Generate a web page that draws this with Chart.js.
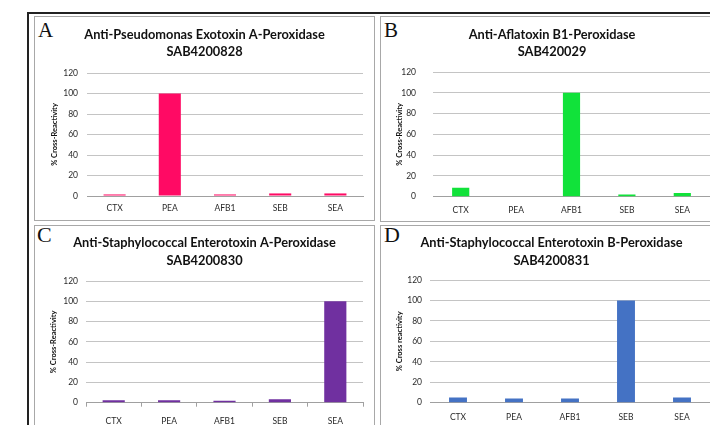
<!DOCTYPE html>
<html><head><meta charset="utf-8">
<script src="https://cdn.jsdelivr.net/npm/chart.js@4.4.0/dist/chart.umd.min.js"></script>
<style>
html,body{margin:0;padding:0;width:710px;height:425px;overflow:hidden;background:#fff;}
.outer{position:absolute;left:27px;top:12px;width:720px;height:440px;border-left:2px solid #222;border-top:2px solid #222;}
.panel{position:absolute;border:1.5px solid #a8a8a8;box-sizing:border-box;}
.letter{position:absolute;font-family:"Liberation Serif","DejaVu Serif",serif;font-size:21px;color:#111;line-height:1;}
canvas{position:absolute;}
</style></head><body>
<div class="outer"></div>
<div class="panel" style="left:34px;top:16px;width:341px;height:205px;"></div>
<div class="panel" style="left:380px;top:16px;width:400px;height:206px;"></div>
<div class="panel" style="left:34px;top:225px;width:341px;height:300px;"></div>
<div class="panel" style="left:380px;top:225px;width:400px;height:300px;"></div>
<div class="letter" style="left:38px;top:20px;">A</div>
<div class="letter" style="left:384px;top:20px;">B</div>
<div class="letter" style="left:37px;top:224px;font-size:22px;">C</div>
<div class="letter" style="left:384px;top:224px;font-size:22px;">D</div>
<canvas id="cA" width="339" height="203" style="left:35px;top:17px;"></canvas>
<canvas id="cB" width="342" height="204" style="left:381px;top:17px;"></canvas>
<canvas id="cC" width="339" height="205" style="left:35px;top:226px;"></canvas>
<canvas id="cD" width="340" height="205" style="left:381px;top:226px;"></canvas>
<script>
const categories = ['CTX', 'PEA', 'AFB1', 'SEB', 'SEA'];
const valuesA = [1.5, 100, 1.5, 2.5, 2.5];
const valuesB = [8.5, 0, 100, 2, 3.5];
const valuesC = [2.5, 2.5, 2, 3.5, 100];
const valuesD = [5, 4, 4, 100, 5];
const yTickValues = [0, 20, 40, 60, 80, 100, 120];
const titleA = ['Anti-Pseudomonas Exotoxin A-Peroxidase', 'SAB4200828'];
const titleB = ['Anti-Aflatoxin B1-Peroxidase', 'SAB420029'];
const titleC = ['Anti-Staphylococcal Enterotoxin A-Peroxidase', 'SAB4200830'];
const titleD = ['Anti-Staphylococcal Enterotoxin B-Peroxidase', 'SAB4200831'];
const yTitleA = '% Cross-Reactivity';
const yTitleB = '% Cross-Reactivity';
const yTitleC = '% Cross-Reactivity';
const yTitleD = '% Cross reactivity';

const FONT = 'Lato, "Liberation Sans", sans-serif';

function makeChart(id, values, title, yTitle, color, o) {
  new Chart(document.getElementById(id), {
    type: 'bar',
    data: {
      labels: categories,
      datasets: [{ data: values, backgroundColor: color, borderWidth: 0,
        barPercentage: o.bar, categoryPercentage: 1 }]
    },
    options: {
      responsive: false, animation: false, devicePixelRatio: 1,
      layout: { padding: { left: o.left, right: o.right, top: 0, bottom: 0 } },
      plugins: {
        legend: { display: false }, tooltip: { enabled: false },
        title: { display: true, text: title, color: '#111',
          font: { family: FONT, size: 12.8, weight: 'bold', lineHeight: o.lh + 'px' },
          padding: { top: o.tTop, bottom: o.tBot } }
      },
      scales: {
        x: {
          afterFit: s => { s.height = o.xh; },
          border: { display: true, color: '#a0a0a0', width: 1 },
          grid: o.xTicks ? { display: true, drawOnChartArea: false, drawTicks: true, tickLength: 4, color: '#a0a0a0' }
                         : { display: false, drawTicks: false, tickLength: 0 },
          ticks: { color: '#2a2a2a', font: { family: FONT, size: 8.5 }, padding: o.xPad, autoSkip: false, maxRotation: 0 }
        },
        y: {
          min: yTickValues[0], max: yTickValues[yTickValues.length - 1],
          afterFit: s => { s.width = o.yw - o.left; },
          afterBuildTicks: s => { s.ticks = yTickValues.map(v => ({ value: v })); },
          border: { display: false },
          grid: { color: '#c4c4c4', drawTicks: false, tickLength: 0, lineWidth: 1 },
          ticks: { color: '#2a2a2a', font: { family: FONT, size: 8.5 }, padding: o.yPad },
          title: { display: true, text: yTitle, color: '#111',
            font: { family: FONT, size: 7.5, weight: 'bold' }, padding: { top: o.ytx - o.left - 4.5, bottom: 0 } }
        }
      }
    }
  });
}

makeChart('cA', valuesA, titleA, yTitleA, '#ff0a64',
  { bar: 0.4, left: 11, right: 11, xh: 24, xPad: 7, xTicks: false, yw: 52, yPad: 9, ytx: 20, lh: 17, tTop: 9.5, tBot: 12.5 });
makeChart('cB', valuesB, titleB, yTitleB, '#11e23a',
  { bar: 0.31, left: 13, right: 13, xh: 24.3, xPad: 8, xTicks: false, yw: 52, yPad: 17, ytx: 19, lh: 17, tTop: 9.5, tBot: 11.5 });
makeChart('cC', valuesC, titleC, yTitleC, '#7030a0',
  { bar: 0.4, left: 11, right: 11, xh: 28.3, xPad: 9, xTicks: true, yw: 51, yPad: 8, ytx: 19, lh: 18, tTop: 8, tBot: 11 });
makeChart('cD', valuesD, titleD, yTitleD, '#4472c4',
  { bar: 0.32, left: 12, right: 11, xh: 28.3, xPad: 9, xTicks: false, yw: 49, yPad: 8, ytx: 19, lh: 18, tTop: 8, tBot: 10 });
</script>
</body></html>
